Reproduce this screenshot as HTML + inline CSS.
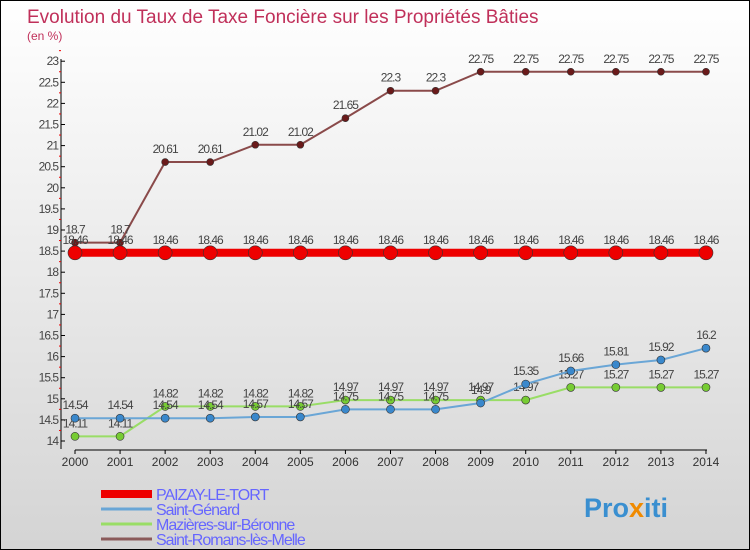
<!DOCTYPE html>
<html><head><meta charset="utf-8"><style>
body{margin:0}
#c{width:748px;height:548px;border:1px solid #000;background:linear-gradient(#fff,#d4d4d4);position:relative;overflow:hidden;font-family:"Liberation Sans",sans-serif}
</style></head><body>
<div id="c">
<svg id="s" width="748" height="548">
<text x="26" y="22" font-size="19" fill="#c0305a">Evolution du Taux de Taxe Foncière sur les Propriétés Bâties</text>
<text x="26" y="39" font-size="12" fill="#c0305a">(en %)</text>
</svg>
</div>
<script>
const years=[2000,2001,2002,2003,2004,2005,2006,2007,2008,2009,2010,2011,2012,2013,2014];
const yTicks=[14,14.5,15,15.5,16,16.5,17,17.5,18,18.5,19,19.5,20,20.5,21,21.5,22,22.5,23];
const paizay=[18.46,18.46,18.46,18.46,18.46,18.46,18.46,18.46,18.46,18.46,18.46,18.46,18.46,18.46,18.46];
const genard=[14.54,14.54,14.54,14.54,14.57,14.57,14.75,14.75,14.75,14.9,15.35,15.66,15.81,15.92,16.2];
const mazieres=[14.11,14.11,14.82,14.82,14.82,14.82,14.97,14.97,14.97,14.97,14.97,15.27,15.27,15.27,15.27];
const romans=[18.7,18.7,20.61,20.61,21.02,21.02,21.65,22.3,22.3,22.75,22.75,22.75,22.75,22.75,22.75];
const seriesNames=["PAIZAY-LE-TORT","Saint-Génard","Mazières-sur-Béronne","Saint-Romans-lès-Melle"];
const svg=document.getElementById('s');const NS='http://www.w3.org/2000/svg';
function X(i){return 74+i*45.07;}
function Y(v){return 440-(v-14)*42.2;}
function mk(t,a,p){const e=document.createElementNS(NS,t);for(const k in a)e.setAttribute(k,a[k]);(p||svg).appendChild(e);return e;}
let ax=mk('line',{x1:60,y1:58,x2:60,y2:448,stroke:'#000'});


let bx=mk('line',{x1:74,y1:449,x2:706,y2:449,stroke:'#000'});


yTicks.forEach(v=>{mk('line',{x1:60,x2:64,y1:Y(v),y2:Y(v),stroke:'#000'});
mk('line',{x1:58,x2:60,y1:Y(v+0.25),y2:Y(v+0.25),stroke:'#e00'});
let t=mk('text',{x:57,y:Y(v)+4,'font-size':12,'text-anchor':'end',fill:'#444','letter-spacing':'-1'});t.textContent=String(v);

});
years.forEach((y,i)=>{mk('line',{x1:X(i),x2:X(i),y1:449,y2:453,stroke:'#000'});
let t=mk('text',{x:X(i),y:465,'font-size':12,'text-anchor':'middle',fill:'#333'});t.textContent=y;

});
function series(d,col,w,r,fill,name,lab){
 const g=mk('g',{});
 
 
 mk('polyline',{points:d.map((v,i)=>X(i)+','+Y(v)).join(' '),fill:'none',stroke:col,'stroke-width':w},g);
 d.forEach((v,i)=>{const c=mk('circle',{cx:X(i),cy:Y(v),r:r,fill:fill,stroke:'#333','stroke-width':0.6},g);
 
 
 if(lab){const t=mk('text',{x:X(i),y:Y(v)-9,'font-size':12,'text-anchor':'middle',fill:'#444','letter-spacing':'-1'},g);t.textContent=String(v);}});
}
series(mazieres,'#99dd66',2,4,'#77cc33','series-mazieres',true);
series(genard,'#6aa6d6',2,4,'#3a88cc','series-saint-genard',true);
series(romans,'#8a4a4a',2,3.5,'#6a1a1a','series-saint-romans',true);
series(paizay,'#ee0000',8,7,'#ee0000','series-paizay',true);
const lc=['#ee0000','#6aa6d6','#99dd66','#8a5a5a'],lw=[8,3,3,3];
seriesNames.forEach((n,i)=>{const y=493+i*15;
 const g=mk('g',{});
 
 
 mk('line',{x1:100,x2:151,y1:y,y2:y,stroke:lc[i],'stroke-width':lw[i]},g);
 const t=mk('text',{x:155,y:y+6,'font-size':16,fill:'#6666ff','letter-spacing':'-1'},g);t.textContent=n;});
const lg=mk('text',{x:583,y:516,'font-size':27,'font-weight':'bold',fill:'#3a8fd0'});


lg.innerHTML='Pro<tspan fill="#f08a00">x</tspan>iti';
</script>
</body></html>
